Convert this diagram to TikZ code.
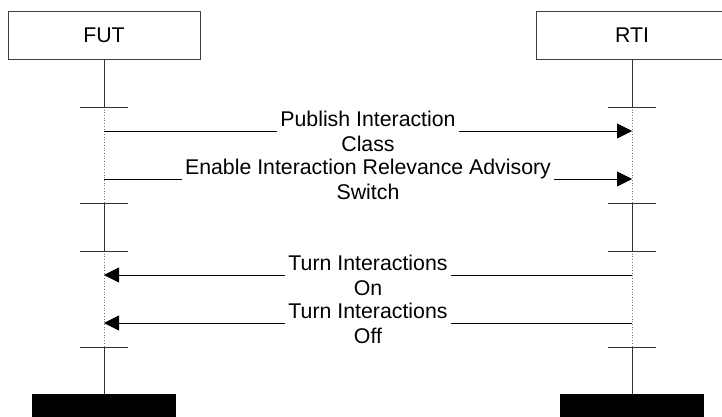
\documentclass[tikz,border=0pt]{standalone}
\usepackage{fontspec}
\setmainfont{Liberation Sans}
\usetikzlibrary{arrows.meta}
\begin{document}
\begin{tikzpicture}[x=1pt, y=-1pt, font=\fontsize{21.3}{25}\selectfont]
	% Define styles
	\tikzstyle{instance} = [rectangle, draw=black!75, line width=0.8pt, minimum width=192pt, minimum height=48pt, inner sep=0pt]
	\tikzstyle{stopbar} = [rectangle, fill=black, minimum width=144pt, minimum height=26pt, inner sep=0pt]
	\tikzstyle{lifeline} = [draw=black!80, line width=0.8pt]
	\tikzstyle{activeline} = [draw=black!55, line width=0.7pt, dotted]
	\tikzstyle{tickmark} = [draw=black!80, line width=0.8pt]
	\tikzstyle{msg} = [draw=black, line width=0.8pt, -{Triangle[length=15pt, width=15pt]}]
	\tikzstyle{msgtext} = [fill=white, align=center, inner xsep=3pt, inner ysep=0pt]

	\useasboundingbox (0,0) rectangle (722,417);

	% Nodes
	\node[instance] (fut) at (104,35) {FUT};
	\node[instance] (rti) at (632,35) {RTI};
	\node[stopbar] (futend) at (104,407) {};
	\node[stopbar] (rtiend) at (632,407) {};

	% Points on the lifelines
	\coordinate (fut-a) at (104,107);
	\coordinate (fut-b) at (104,203);
	\coordinate (fut-c) at (104,251);
	\coordinate (fut-d) at (104,347);
	\coordinate (rti-a) at (632,107);
	\coordinate (rti-b) at (632,203);
	\coordinate (rti-c) at (632,251);
	\coordinate (rti-d) at (632,347);
	\coordinate (fut-1) at (104,131);
	\coordinate (fut-2) at (104,179);
	\coordinate (fut-3) at (104,275);
	\coordinate (fut-4) at (104,323);
	\coordinate (rti-1) at (632,131);
	\coordinate (rti-2) at (632,179);
	\coordinate (rti-3) at (632,275);
	\coordinate (rti-4) at (632,323);

	% Lifelines
	\draw[lifeline] (fut) -- (fut-a);
	\draw[activeline] (fut-a) -- (fut-b);
	\draw[lifeline] (fut-b) -- (fut-c);
	\draw[activeline] (fut-c) -- (fut-d);
	\draw[lifeline] (fut-d) -- (futend);
	\draw[lifeline] (rti) -- (rti-a);
	\draw[activeline] (rti-a) -- (rti-b);
	\draw[lifeline] (rti-b) -- (rti-c);
	\draw[activeline] (rti-c) -- (rti-d);
	\draw[lifeline] (rti-d) -- (rtiend);

	% Ticks
	\draw[tickmark] ([xshift=-24pt]fut-a) -- ([xshift=24pt]fut-a);
	\draw[tickmark] ([xshift=-24pt]fut-b) -- ([xshift=24pt]fut-b);
	\draw[tickmark] ([xshift=-24pt]fut-c) -- ([xshift=24pt]fut-c);
	\draw[tickmark] ([xshift=-24pt]fut-d) -- ([xshift=24pt]fut-d);
	\draw[tickmark] ([xshift=-24pt]rti-a) -- ([xshift=24pt]rti-a);
	\draw[tickmark] ([xshift=-24pt]rti-b) -- ([xshift=24pt]rti-b);
	\draw[tickmark] ([xshift=-24pt]rti-c) -- ([xshift=24pt]rti-c);
	\draw[tickmark] ([xshift=-24pt]rti-d) -- ([xshift=24pt]rti-d);

	% Arrows
	\draw[msg] (fut-1) -- node[msgtext] {Publish Interaction\\Class} (rti-1);
	\draw[msg] (fut-2) -- node[msgtext] {Enable Interaction Relevance Advisory\\Switch} (rti-2);
	\draw[msg] (rti-3) -- node[msgtext] {Turn Interactions\\On} (fut-3);
	\draw[msg] (rti-4) -- node[msgtext] {Turn Interactions\\Off} (fut-4);
\end{tikzpicture}
\end{document}
